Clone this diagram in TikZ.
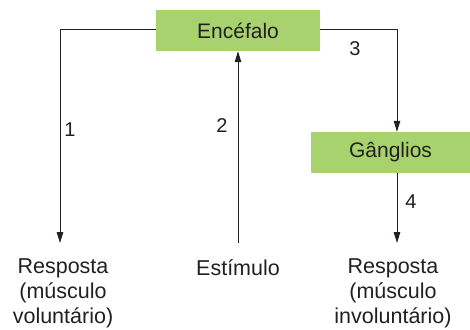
\documentclass[tikz,border=0pt]{standalone}
\usepackage{fontspec}
\setmainfont{Liberation Sans}
\usetikzlibrary{arrows.meta}
\definecolor{boxgreen}{RGB}{168,210,110}
\definecolor{ink}{RGB}{35,31,32}
\begin{document}
\begin{tikzpicture}[x=1pt,y=-1pt,
  greenbox/.style={fill=boxgreen,draw=none,minimum height=41pt,inner sep=0pt,font=\fontsize{21}{25}\selectfont,text=ink},
  lbl/.style={font=\fontsize{21.5}{25}\selectfont,text=ink,align=center,inner sep=0pt,anchor=north},
  num/.style={font=\fontsize{20}{22}\selectfont,text=ink,inner sep=0pt},
  conn/.style={draw=ink,line width=1pt},
  arr/.style={conn,-{Triangle[length=11pt,width=6.5pt]}}]
\useasboundingbox (0,0) rectangle (470,329);
\node[greenbox,minimum width=164pt] (enc) at (238,30.5) {Encéfalo};
\node[greenbox,minimum width=159pt] (gang) at (390.5,152.5) {Gânglios};
\node[lbl] (resp1) at (63,259) {Resposta\\(músculo\\voluntário)};
\node[lbl] (est) at (238,259) {Estímulo};
\node[lbl] (resp2) at (393,259) {Resposta\\(músculo\\involuntário)};
\coordinate (c1) at (60,30);
\coordinate (e1) at (60,243);
\coordinate (c3) at (397,30);
\coordinate (s2) at (238,243);
\coordinate (g4) at (397,173);
\coordinate (e4) at (397,243);
\draw[arr] (enc.west |- c1) -- (c1) -- (e1);
\draw[arr] (s2) -- (enc.south -| s2);
\draw[arr] (enc.east |- c3) -- (c3) -- (gang.north -| c3);
\draw[arr] (g4) -- (e4);
\node[num] (n1) at (70,130) {1};
\node[num] (n2) at (222,126) {2};
\node[num] (n3) at (355,49) {3};
\node[num] (n4) at (411,202) {4};
\end{tikzpicture}
\end{document}
